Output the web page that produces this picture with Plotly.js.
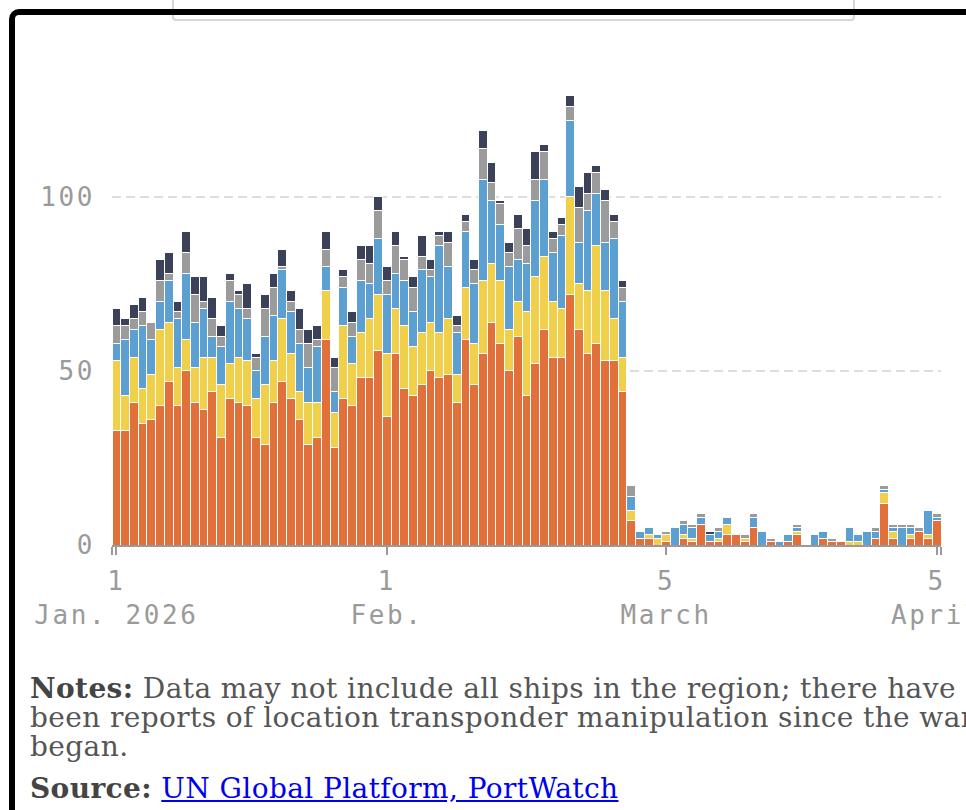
<!DOCTYPE html>
<html>
<head>
<meta charset="utf-8">
<script src="https://cdn.plot.ly/plotly-3.0.1.min.js"></script>
<style>
  html, body { margin: 0; padding: 0; background: #fff; width: 966px; height: 810px; overflow: hidden; }
  #chart { position: absolute; left: 0; top: 0; width: 966px; height: 650px; overflow: hidden; }
  #frame { position: absolute; left: 9px; top: 9px; width: 2000px; height: 2000px;
           border-left: 6px solid #000; border-top: 6px solid #000; border-top-left-radius: 10px;
           box-sizing: border-box; z-index: 10; pointer-events: none; }
  #legendbox { position: absolute; left: 172px; top: -20px; width: 683px; height: 41px;
               border: 2px solid #d3d6da; border-radius: 4px; box-sizing: border-box; z-index: 5; background: #fff; }
  #notes { position: absolute; left: 30px; top: 674px; font-family: "DejaVu Serif", serif; font-size: 28px;
           letter-spacing: 0.4px; line-height: 29px; color: #555; white-space: nowrap; z-index: 3; }
  #notes b { color: #444; }
  #notes p { margin: 0; }
  #notes p.src { margin-top: 13px; }
  #notes a { color: #0000ee; text-decoration: underline; }
  .js-plotly-plot .xtick text, .js-plotly-plot .ytick text { letter-spacing: 2.6px; }
</style>
</head>
<body>
<div id="legendbox"></div>
<div id="chart"></div>
<div id="frame"></div>
<div id="notes">
  <p><b>Notes:</b> Data may not include all ships in the region; there have<br>been reports of location transponder manipulation since the war<br>began.</p>
  <p class="src"><b>Source:</b> <a href="#">UN Global Platform, PortWatch</a></p>
</div>
<script>
const dates = [
 "2026-01-01","2026-01-02","2026-01-03","2026-01-04","2026-01-05","2026-01-06","2026-01-07","2026-01-08","2026-01-09","2026-01-10",
 "2026-01-11","2026-01-12","2026-01-13","2026-01-14","2026-01-15","2026-01-16","2026-01-17","2026-01-18","2026-01-19","2026-01-20",
 "2026-01-21","2026-01-22","2026-01-23","2026-01-24","2026-01-25","2026-01-26","2026-01-27","2026-01-28","2026-01-29","2026-01-30",
 "2026-01-31","2026-02-01","2026-02-02","2026-02-03","2026-02-04","2026-02-05","2026-02-06","2026-02-07","2026-02-08","2026-02-09",
 "2026-02-10","2026-02-11","2026-02-12","2026-02-13","2026-02-14","2026-02-15","2026-02-16","2026-02-17","2026-02-18","2026-02-19",
 "2026-02-20","2026-02-21","2026-02-22","2026-02-23","2026-02-24","2026-02-25","2026-02-26","2026-02-27","2026-02-28","2026-03-01",
 "2026-03-02","2026-03-03","2026-03-04","2026-03-05","2026-03-06","2026-03-07","2026-03-08","2026-03-09","2026-03-10","2026-03-11",
 "2026-03-12","2026-03-13","2026-03-14","2026-03-15","2026-03-16","2026-03-17","2026-03-18","2026-03-19","2026-03-20","2026-03-21",
 "2026-03-22","2026-03-23","2026-03-24","2026-03-25","2026-03-26","2026-03-27","2026-03-28","2026-03-29","2026-03-30","2026-03-31",
 "2026-04-01","2026-04-02","2026-04-03","2026-04-04","2026-04-05"
];

const orangeSeries = [33,33,41,35,36,40,47,40,50,41, 39,44,31,42,41,40,31,29,41,47, 42,36,29,31,59,28,42,40,48,48,
 56,37,55,45,43,46,50,48,49,41, 59,46,55,64,58,50,60,43,52,62, 54,54,72,62,55,58,53,53,44,7,
 2,2,0,1,0,2,1,6,1,1, 3,3,1,5,0,1,0,1,3,0, 0,2,1,1,0,0,0,2,12,2, 0,2,4,2,7];
const yellowSeries = [20,10,13,10,13,22,17,11,9,10, 15,10,15,10,13,13,11,17,12,18, 13,8,12,10,14,10,21,12,13,17,
 16,18,13,18,14,15,14,13,16,8, 15,12,21,17,18,12,10,24,25,21, 16,14,28,13,18,28,20,12,10,3,
 0,1,2,2,0,1,1,0,0,1, 3,0,1,0,0,0,0,0,1,0, 0,0,0,0,1,1,0,0,3,2, 0,1,0,1,0];
const blueSeries = [5,16,8,18,10,8,12,14,19,13, 14,6,11,18,14,12,8,14,13,14, 12,14,10,16,7,6,11,8,15,10,
 16,17,10,13,10,18,13,25,15,12, 16,17,29,18,16,18,12,14,22,22, 14,21,22,12,23,15,14,23,16,4,
 2,2,1,0,5,3,3,2,2,2, 2,0,0,3,4,0,1,2,1,0, 3,2,0,0,4,2,4,2,1,1, 5,2,0,7,1];
const graySeries = [5,4,3,4,5,6,2,2,6,8, 2,5,3,6,4,3,4,8,8,1, 3,4,7,2,5,7,3,4,6,6,
 8,4,8,6,7,4,2,3,7,2, 3,4,9,5,6,4,9,5,6,8, 4,3,4,10,5,6,12,5,4,3,
 0,0,0,1,0,1,1,1,0,1, 0,0,1,1,0,1,0,0,1,0, 0,0,1,0,0,0,0,1,1,1, 1,1,1,0,1];
const navySeries = [5,2,4,4,0,6,6,3,6,5, 7,6,3,2,1,7,1,4,4,5, 3,6,4,4,5,3,2,3,4,5,
 4,4,4,1,3,6,3,1,3,3, 2,3,5,6,1,3,4,5,8,2, 2,2,3,6,6,2,3,2,2,0,
 0,0,0,0,0,0,0,0,1,0, 0,0,0,0,0,0,0,0,0,0, 0,0,0,0,0,0,0,0,0,0, 0,0,0,0,0];

const seriesNames = ["Tankers", "Dry bulk", "Container", "General cargo", "Other"];
const seriesColors = ["#e2703a", "#f0d04a", "#5ba0d0", "#9b9b9b", "#3c415a"];
const seriesValues = [orangeSeries, yellowSeries, blueSeries, graySeries, navySeries];

const xTickVals = ["2025-12-31 12:00", "2026-01-01", "2026-02-01", "2026-03-05", "2026-04-05", "2026-04-05 12:00"];
const xTickText = ["", "1<br>Jan. 2026", "1<br>Feb.", "5<br>March", "5<br>April", ""];
const yTickVals = [0, 50, 100];
const yTickText = ["0", "50", "100"];

const traces = seriesValues.map((vals, i) => ({
  type: "bar",
  x: dates,
  y: vals,
  name: seriesNames[i],
  marker: { color: seriesColors[i], line: { color: "#ffffff", width: 1 } },
  showlegend: false,
  hoverinfo: "skip"
}));

const monoFont = { family: "DejaVu Sans Mono, monospace", size: 26, color: "#9a9a9a" };

const layout = {
  width: 966, height: 650,
  margin: { l: 112, r: 25, t: 75, b: 105 },
  paper_bgcolor: "#ffffff", plot_bgcolor: "#ffffff",
  barmode: "stack", bargap: 0,
  showlegend: false,
  xaxis: {
    type: "date",
    range: ["2025-12-31 12:00", "2026-04-05 12:00"],
    tickmode: "array", tickvals: xTickVals, ticktext: xTickText,
    showgrid: false, zeroline: false,
    showline: true, linecolor: "#9a9a9a", linewidth: 2,
    ticks: "outside", ticklen: 8, tickwidth: 2, tickcolor: "#9a9a9a",
    ticklabelstandoff: 4,
    ticklabeloverflow: "allow",
    tickfont: monoFont,
    layer: "above traces",
    fixedrange: true
  },
  yaxis: {
    range: [0, 135],
    tickmode: "array", tickvals: yTickVals, ticktext: yTickText,
    showgrid: true, gridcolor: "#dddddd", gridwidth: 2, griddash: "9px,5px",
    zeroline: false, showline: false, ticks: "",
    ticklabelstandoff: 16,
    tickfont: monoFont,
    fixedrange: true
  }
};

Plotly.newPlot("chart", traces, layout, { displayModeBar: false, staticPlot: true });
</script>
</body>
</html>
